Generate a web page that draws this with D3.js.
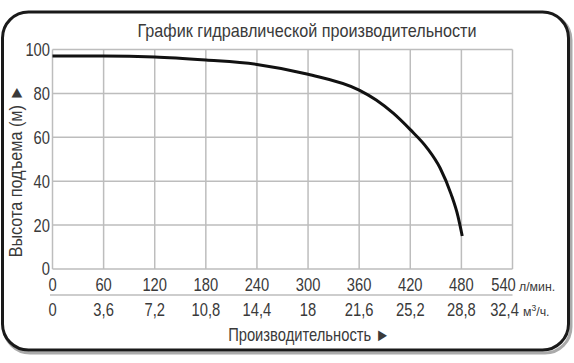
<!DOCTYPE html>
<html>
<head>
<meta charset="utf-8">
<script src="https://cdn.jsdelivr.net/npm/d3@7"></script>
<style>
  body { margin: 0; background: #fff; }
  text { font-family: "Liberation Sans", Arial, sans-serif; fill: #3a3a3a; }
</style>
</head>
<body>
<div id="chart"></div>
<script>
// flow in l/min and head in metres
const flowLpm = [0, 60, 120, 180, 240, 300, 360, 380, 400, 420, 440, 455, 468, 476, 481];
const headM = [97, 97, 96.6, 95.2, 93.2, 88.7, 81.5, 77, 71, 63.5, 55, 46, 34, 24, 15];

const xTicksLpm = [0, 60, 120, 180, 240, 300, 360, 420, 480, 540];
const xTicksM3h = ["0", "3,6", "7,2", "10,8", "14,4", "18", "21,6", "25,2", "28,8", "32,4"];
const yTicks = [0, 20, 40, 60, 80, 100];

const width = 574, height = 363;
const squeeze = 0.82; // fake a condensed face

const svg = d3.select("#chart").append("svg")
    .attr("width", width)
    .attr("height", height);

// place text at (px, py) squeezed horizontally
function place(sel, px, py, k = squeeze) {
    return sel.attr("transform", (d, i) => {
        const tx = typeof px === "function" ? px(d, i) : px;
        const ty = typeof py === "function" ? py(d, i) : py;
        return `translate(${tx},${ty}) scale(${k},1)`;
    });
}

// outer frame with a soft shadow
svg.append("rect")
    .attr("x", 4).attr("y", 14)
    .attr("width", 567).attr("height", 339)
    .attr("rx", 26)
    .style("fill", "none")
    .style("stroke", "#aaa")
    .style("stroke-width", 3);
svg.append("rect")
    .attr("x", 2.5).attr("y", 12)
    .attr("width", 566).attr("height", 338)
    .attr("rx", 26)
    .style("fill", "#fff")
    .style("stroke", "#1a1a1a")
    .style("stroke-width", 3);

// scales
const x = d3.scaleLinear().domain([0, 540]).range([52.5, 512.5]);
const y = d3.scaleLinear().domain([0, 100]).range([269, 49.5]);

// grid
svg.append("g").selectAll("line")
    .data(xTicksLpm)
    .join("line")
    .attr("x1", d => x(d)).attr("x2", d => x(d))
    .attr("y1", y(100)).attr("y2", y(0))
    .style("stroke", "#bdbdbd")
    .style("stroke-width", 1.5);

svg.append("g").selectAll("line")
    .data(yTicks)
    .join("line")
    .attr("x1", x(0)).attr("x2", x(540))
    .attr("y1", d => y(d)).attr("y2", d => y(d))
    .style("stroke", "#bdbdbd")
    .style("stroke-width", 1.5);

// separator between the two x rows
svg.append("line")
    .attr("x1", 50).attr("x2", x(540))
    .attr("y1", 295).attr("y2", 295)
    .style("stroke", "#bdbdbd")
    .style("stroke-width", 1.5);

// curve
const line = d3.line()
    .x((d, i) => x(flowLpm[i]))
    .y(d => y(d))
    .curve(d3.curveMonotoneX);

svg.append("path")
    .datum(headM)
    .attr("d", line)
    .style("fill", "none")
    .style("stroke", "#111")
    .style("stroke-width", 3);

// y tick labels
place(svg.append("g").selectAll("text")
    .data(yTicks)
    .join("text"), 50, d => y(d))
    .attr("dy", "0.36em")
    .attr("text-anchor", "end")
    .style("font-size", "18px")
    .text(d => d);

// x tick labels, l/min
place(svg.append("g").selectAll("text")
    .data(xTicksLpm)
    .join("text"), d => d === 540 ? x(d) - 9 : x(d), 285)
    .attr("dy", "0.36em")
    .attr("text-anchor", "middle")
    .style("font-size", "18px")
    .text(d => d);

// x tick labels, m3/h
place(svg.append("g").selectAll("text")
    .data(xTicksM3h)
    .join("text"), (d, i) => i === 9 ? x(xTicksLpm[i]) - 8 : x(xTicksLpm[i]), 310)
    .attr("dy", "0.36em")
    .attr("text-anchor", "middle")
    .style("font-size", "18px")
    .text(d => d);

// units
place(svg.append("text"), 519, 286, 0.95)
    .attr("dy", "0.36em")
    .style("font-size", "13px")
    .text("л/мин.");

const unit = place(svg.append("text"), 523, 311, 0.95)
    .attr("dy", "0.36em")
    .style("font-size", "13px");
unit.append("tspan").text("м");
unit.append("tspan").attr("dy", "-5").style("font-size", "9px").text("3");
unit.append("tspan").attr("dy", "5").text("/ч.");

// title
place(svg.append("text"), 307, 31, 0.9)
    .attr("dy", "0.36em")
    .attr("text-anchor", "middle")
    .style("font-size", "18px")
    .text("График гидравлической производительности");

// axis titles
place(svg.append("text"), 309, 335)
    .attr("dy", "0.36em")
    .attr("text-anchor", "middle")
    .style("font-size", "18px")
    .text("Производительность ►");

svg.append("text")
    .attr("transform", "translate(16,171) rotate(-90) scale(0.9,1)")
    .attr("dy", "0.36em")
    .attr("text-anchor", "middle")
    .style("font-size", "18px")
    .text("Высота подъема (м) ►");
</script>
</body>
</html>
